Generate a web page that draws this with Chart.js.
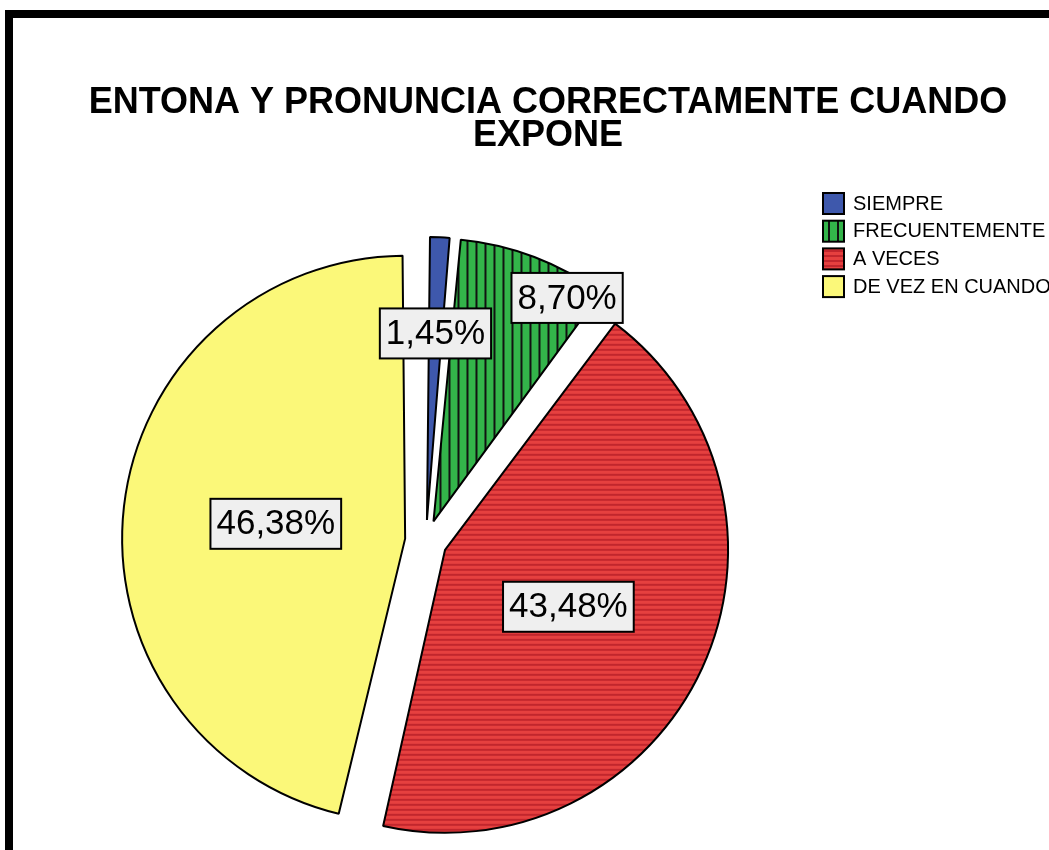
<!DOCTYPE html>
<html>
<head>
<meta charset="utf-8">
<script src="https://cdn.jsdelivr.net/npm/chart.js@4.4.0/dist/chart.umd.min.js"></script>
<style>
  html, body { margin: 0; padding: 0; background: #fff; overflow: hidden; }
  #frame { position: absolute; left: 5px; top: 10px; width: 1200px; height: 1000px; border: 8px solid #000; }
  #pie { position: absolute; left: 0; top: 0; }
</style>
</head>
<body>
<div id="frame"></div>
<canvas id="pie" width="1049" height="850"></canvas>
<script>
const titleLines = ["ENTONA Y PRONUNCIA CORRECTAMENTE CUANDO", "EXPONE"];
const categories = ["SIEMPRE", "FRECUENTEMENTE", "A VECES", "DE VEZ EN CUANDO"];
const percents = [1.45, 8.70, 43.48, 46.38];

// label placement: fraction of radius and angle shift (deg) from slice middle
const labelRadius = [0.66, 0.92, 0.48, 0.46];
const labelShift = [0, 10, 0, 0];
const explode = 21;
const pieRadius = 283;

const canvas = document.getElementById("pie");
const ctx = canvas.getContext("2d");

function stripes(base, line, w, h, lw, vertical) {
  const c = document.createElement("canvas");
  c.width = w; c.height = h;
  const g = c.getContext("2d");
  g.fillStyle = base;
  g.fillRect(0, 0, w, h);
  g.fillStyle = line;
  if (vertical) g.fillRect(0, 0, lw, h);
  else g.fillRect(0, 0, w, lw);
  return ctx.createPattern(c, "repeat");
}

const fills = [
  "#3e58ac",
  stripes("#33b44a", "#111", 9, 1, 2, true),
  stripes("#e6403f", "#c2262d", 1, 5, 2, false),
  "#fbf879"
];

const fmt = v => v.toFixed(2).replace(".", ",") + "%";

const decor = {
  id: "decor",
  // Chart.js grows an offset arc's radius by offset/4*fix; take it back so all slices keep one radius
  beforeDatasetsDraw(chart) {
    chart.getDatasetMeta(0).data.forEach(arc => {
      const fix = 1 - Math.sin(Math.min(Math.PI, arc.circumference));
      arc.outerRadius = pieRadius - explode * fix;
    });
  },
  afterDatasetsDraw(chart) {
    const g = chart.ctx;
    const meta = chart.getDatasetMeta(0);
    meta.data.forEach((arc, i) => {
      const mid = (arc.startAngle + arc.endAngle) / 2;
      const a = mid + labelShift[i] * Math.PI / 180;
      const r = pieRadius * labelRadius[i];
      const x = arc.x + Math.cos(mid) * explode + Math.cos(a) * r;
      const y = arc.y + Math.sin(mid) * explode + Math.sin(a) * r;
      const txt = fmt(percents[i]);
      g.save();
      g.font = '35px "Liberation Sans", Arial, sans-serif';
      const tw = g.measureText(txt).width;
      const bw = tw + 12, bh = 50;
      g.fillStyle = "#efefef";
      g.fillRect(x - bw / 2, y - bh / 2, bw, bh);
      g.lineWidth = 2;
      g.strokeStyle = "#000";
      g.strokeRect(x - bw / 2, y - bh / 2, bw, bh);
      g.fillStyle = "#000";
      g.textAlign = "center";
      g.textBaseline = "middle";
      g.fillText(txt, x, y + 1);
      g.restore();
    });
  },
  afterDraw(chart) {
    const g = chart.ctx;
    g.save();
    g.fillStyle = "#000";
    g.textAlign = "center";
    g.textBaseline = "alphabetic";
    g.font = 'bold 36px "Liberation Sans", Arial, sans-serif';
    g.fillText(titleLines[0], 548, 113);
    g.fillText(titleLines[1], 548, 146);

    g.font = '20px "Liberation Sans", Arial, sans-serif';
    g.textAlign = "left";
    g.textBaseline = "middle";
    chart.data.labels.forEach((lab, i) => {
      const bx = 823, by = 193 + i * 27.7;
      g.fillStyle = fills[i];
      g.fillRect(bx, by, 21, 21);
      g.lineWidth = 2;
      g.strokeStyle = "#000";
      g.strokeRect(bx, by, 21, 21);
      g.fillStyle = "#000";
      g.fillText(lab, 853, by + 11);
    });
    g.restore();
  }
};

new Chart(ctx, {
  type: "pie",
  data: {
    labels: categories,
    datasets: [{
      data: percents,
      backgroundColor: fills,
      borderColor: "#000",
      borderWidth: 2,
      radius: pieRadius,
      offset: explode * 4
    }]
  },
  options: {
    responsive: false,
    animation: false,
    events: [],
    devicePixelRatio: 1,
    layout: { padding: { left: 0, right: 197, top: 240, bottom: 8 } },
    plugins: {
      legend: { display: false },
      title: { display: false },
      tooltip: { enabled: false }
    }
  },
  plugins: [decor]
});
</script>
</body>
</html>
